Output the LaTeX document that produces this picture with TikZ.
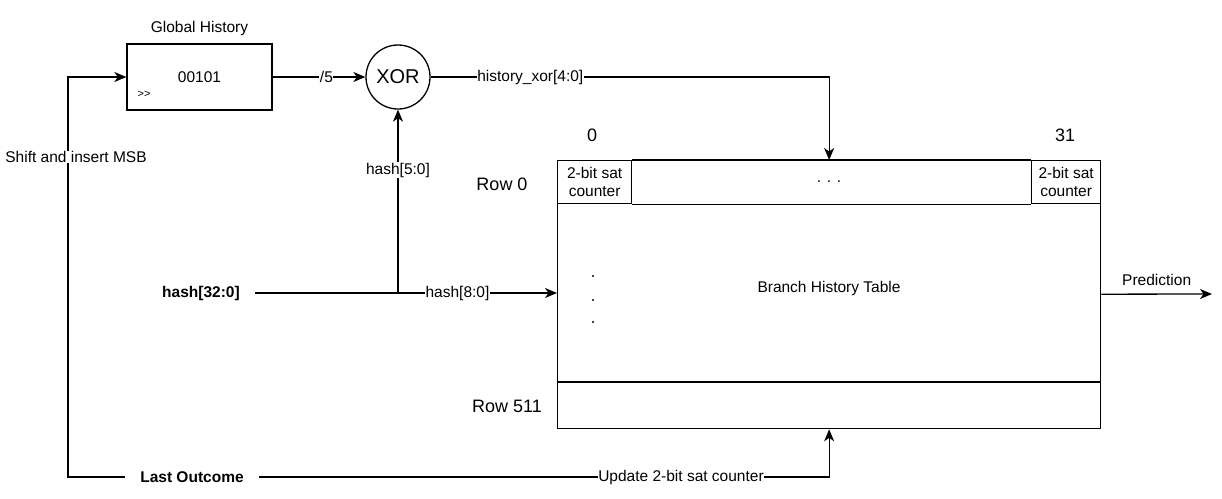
\documentclass[tikz,border=0pt]{standalone}
\usepackage{fontspec}
\setmainfont{Liberation Sans}
\usetikzlibrary{positioning, arrows.meta, calc}

\tikzset{
	txt/.style={font=\fontsize{15.5}{18}\selectfont, inner sep=1pt},
	big/.style={font=\fontsize{18}{21}\selectfont, inner sep=1pt},
	lbl/.style={txt, fill=white, inner sep=0.5pt},
	cell/.style={draw, txt, align=center, anchor=north west, minimum height=43pt, inner sep=0pt},
	arr/.style={-{Stealth[length=12pt, width=10pt, inset=3.5pt]}}
}

\begin{document}
\begin{tikzpicture}[x=1pt, y=-1pt, line width=1.3pt]
	\useasboundingbox (0,0) rectangle (1222,498);

	% global history register and xor
	\node (gh) [draw, txt, minimum width=145pt, minimum height=66pt] at (199.5,77) {00101};
	\node [above=6pt of gh, txt] {Global History};
	\node [font=\fontsize{11}{12}\selectfont, inner sep=0pt] at (144,94) {{>}{>}};
	\node (xor) [draw, circle, minimum size=64pt, inner sep=0pt, font=\fontsize{20}{22}\selectfont] at (398,77) {XOR};

	% branch history table
	\node (bht) [draw, minimum width=543pt, minimum height=268pt, anchor=north west] at (557,160) {};
	\node (c0) [cell, minimum width=74pt] at (557,160) {2-bit sat\\counter};
	\node (c31) [cell, minimum width=69pt] at (1031,160) {2-bit sat\\counter};
	\draw (c0.north east) -- (c31.north west) (c0.south east) -- (c31.south west);
	\node [txt] at (829,182) {. . .};
	\draw (557,382) -- (1100,382);
	\node [txt] at (829,288) {Branch History Table};
	\foreach \y in {276,300,322}
		\fill (593,\y) circle (1.1);
	\node [big] at (592,135) {0};
	\node [big] at (1065,135) {31};
	\node [big] at (502,184) {Row 0};
	\node [big] at (507,406) {Row 511};

	% inputs
	\node (hash) [txt, font=\bfseries\fontsize{15.5}{18}\selectfont, inner sep=15pt] at (201,293) {hash[32:0]};
	\node (lo) [txt, font=\bfseries\fontsize{15.5}{18}\selectfont, inner sep=15pt] at (192,477) {Last Outcome};
	\coordinate (lp) at (68,477);
	\coordinate (pred) at (1212,294);

	% connectors
	\draw[arr] (gh) -- node [lbl, pos=0.58] {/5} (xor);
	\draw[arr] (xor) -| node [lbl, pos=0.125] {history\_xor[4:0]} (bht.north);
	\draw[arr] (hash) -- node [lbl, pos=0.67] {hash[8:0]} (hash -| bht.west);
	\draw[arr] (hash -| xor) -- node [lbl, pos=0.67] {hash[5:0]} (xor);
	\draw[arr] (lo) -| node [lbl, pos=0.37] {Update 2-bit sat counter} (bht.south);
	\draw[arr] (lo) -- (lp) |- node [lbl, pos=0.4, xshift=8pt] {Shift and insert MSB} (gh);
	\draw[arr] (bht) -- node [txt, above=7pt] {Prediction} (pred);
\end{tikzpicture}
\end{document}
